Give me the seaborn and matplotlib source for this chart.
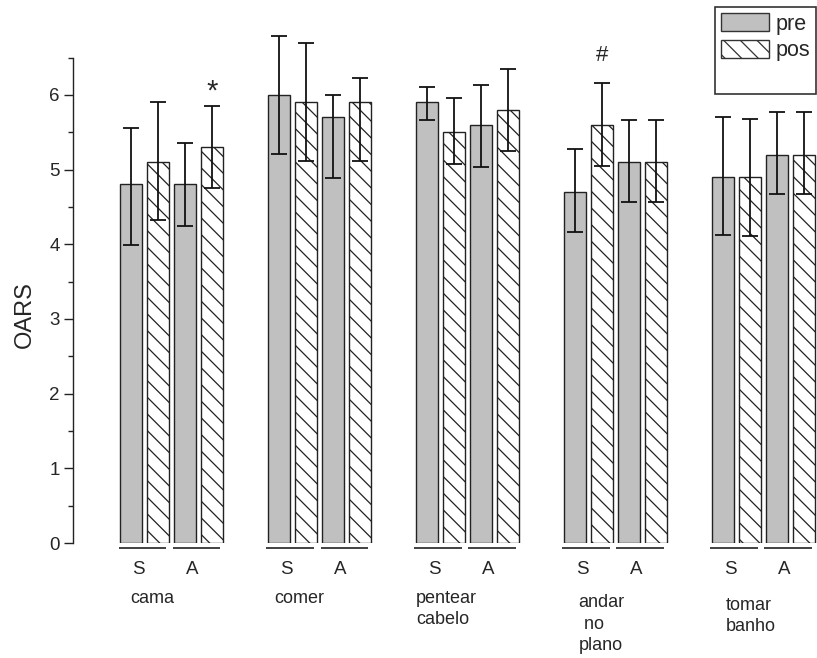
import matplotlib
matplotlib.use("Agg")
import matplotlib.pyplot as plt
import numpy as np
import pandas as pd
import seaborn as sns
from matplotlib.patches import Patch
from matplotlib.ticker import MultipleLocator

# ---------------- data ----------------
activities = ["cama", "comer", "pentear\ncabelo", "andar\n no\nplano", "tomar\nbanho"]
groups = ["S", "A"]
conditions = ["pre", "pos"]

pre_S = [4.8, 6.0, 5.9, 4.7, 4.9]
pos_S = [5.1, 5.9, 5.5, 5.6, 4.9]
pre_A = [4.8, 5.7, 5.6, 5.1, 5.2]
pos_A = [5.3, 5.9, 5.8, 5.1, 5.2]

pre_S_up = [0.76, 0.79, 0.20, 0.57, 0.80]
pre_S_lo = [0.81, 0.79, 0.24, 0.53, 0.77]
pos_S_up = [0.80, 0.80, 0.46, 0.56, 0.78]
pos_S_lo = [0.77, 0.78, 0.43, 0.55, 0.79]
pre_A_up = [0.56, 0.30, 0.53, 0.56, 0.57]
pre_A_lo = [0.55, 0.81, 0.57, 0.54, 0.53]
pos_A_up = [0.55, 0.33, 0.55, 0.56, 0.57]
pos_A_lo = [0.55, 0.78, 0.55, 0.54, 0.53]

# significance marks: (symbol, activity index, group, condition)
marks = [("*", 0, "A", "pos"), ("#", 3, "S", "pos")]
mark_y = [6.04, 6.53]

# ---------------- layout ----------------
GROUP_STEP = 5.48
BAR_W = 0.83
PX = 74.7  # pixels per y unit (for label offsets)

vals = {("S", "pre"): (pre_S, pre_S_up, pre_S_lo),
        ("S", "pos"): (pos_S, pos_S_up, pos_S_lo),
        ("A", "pre"): (pre_A, pre_A_up, pre_A_lo),
        ("A", "pos"): (pos_A, pos_A_up, pos_A_lo)}

rows = []
for i, act in enumerate(activities):
    for gi, g in enumerate(groups):
        for ci, c in enumerate(conditions):
            v, up, lo = vals[(g, c)]
            rows.append(dict(activity=act, group=g, cond=c,
                             x=round(i * GROUP_STEP + 2 * gi + ci, 3),
                             value=v[i], up=up[i], lo=lo[i]))
df = pd.DataFrame(rows)

sns.set_style("ticks")
plt.rcParams["font.family"] = ["Liberation Sans", "DejaVu Sans"]
plt.rcParams["hatch.color"] = "#1a1a1a"
plt.rcParams["hatch.linewidth"] = 0.9

fig = plt.figure(figsize=(8.17, 6.58), dpi=100)
ax = fig.add_axes([73 / 817, 1 - 543 / 658, 1 - 73 / 817, (543 - 57.5) / 658])

sns.barplot(data=df, x="x", y="value", hue="cond", hue_order=conditions,
            palette={"pre": "#c0c0c0", "pos": "white"}, native_scale=True,
            dodge=False, width=BAR_W, saturation=1, errorbar=None,
            edgecolor="#222222", linewidth=1.0, legend=False, ax=ax)

for p in ax.patches:
    fc = p.get_facecolor()
    if fc[0] > 0.95 and fc[1] > 0.95 and fc[2] > 0.95:
        p.set_hatch(r"\\")

eb = ax.errorbar(df["x"], df["value"], yerr=[df["lo"], df["up"]], fmt="none",
                 ecolor="#111111", elinewidth=1.3, capsize=5.6, capthick=1.3,
                 zorder=5)
for art in list(eb.lines[1]) + list(eb.lines[2]):
    art.set_clip_on(False)

ax.set_ylim(0, 6.5)
ax.set_xlim(-2.15, 25.4)
ax.set_yticks(range(7))
ax.yaxis.set_minor_locator(MultipleLocator(0.5))
ax.tick_params(axis="y", which="major", length=6.5, width=1.0, direction="out",
               labelsize=13.5, pad=3, color="#222222")
ax.tick_params(axis="y", which="minor", length=3.5, width=1.0, direction="out",
               color="#222222")
ax.tick_params(axis="x", bottom=False, labelbottom=False)
ax.set_xlabel("")
for s in ["top", "right", "bottom"]:
    ax.spines[s].set_visible(False)
ax.spines["left"].set_color("#222222")
ax.spines["left"].set_linewidth(1.0)

ax.set_ylabel("OARS", fontsize=17, va="center")
ax.yaxis.set_label_coords(-0.0645, 0.47)

# S / A labels with underlines
label_dx = [0.37, 0.22, 0.0, 0.55, 0.5]
label_base = [603, 603, 624, 650, 631]   # baseline of the last line, px
for i, act in enumerate(activities):
    x0 = i * GROUP_STEP
    for gi, g in enumerate(groups):
        left = x0 + 2 * gi - BAR_W / 2 - 0.05
        right = x0 + 2 * gi + 1 + BAR_W / 2 - 0.12
        ax.plot([left, right], [-5 / PX, -5 / PX], color="#333333", lw=1.3,
                clip_on=False, solid_capstyle="butt")
        ax.text(x0 + 2 * gi + 0.27, -31 / PX, g, ha="center", va="baseline",
                fontsize=13.5, clip_on=False)
    ax.text(x0 - BAR_W / 2 + label_dx[i], -(label_base[i] - 543) / PX, act,
            ha="left", va="baseline", fontsize=13, linespacing=1.33,
            clip_on=False)

# significance marks
for (sym, ai, g, c), yy in zip(marks, mark_y):
    xx = df[(df.activity == activities[ai]) & (df.group == g) & (df.cond == c)]["x"].iloc[0]
    ax.text(xx, yy, sym, ha="center", va="center",
            fontsize=21 if sym == "*" else 16, clip_on=False)

# legend
handles = [Patch(facecolor="#c0c0c0", edgecolor="#333333", lw=1.0),
           Patch(facecolor="white", edgecolor="#333333", lw=1.0, hatch=r"\\"),
           Patch(facecolor="none", edgecolor="none")]
leg = fig.legend(handles, conditions + [" "], loc="upper left",
                 bbox_to_anchor=(715 / 817, 1 - 7 / 658), frameon=True,
                 fancybox=False, prop={"size": 15.5},
                 handlelength=2.2, handleheight=0.88, handletextpad=0.3,
                 labelspacing=0.25, borderpad=0.3, borderaxespad=0,
                 edgecolor="#333333", framealpha=1)
leg.get_frame().set_linewidth(1.2)

fig.savefig("out.png", dpi=100)
